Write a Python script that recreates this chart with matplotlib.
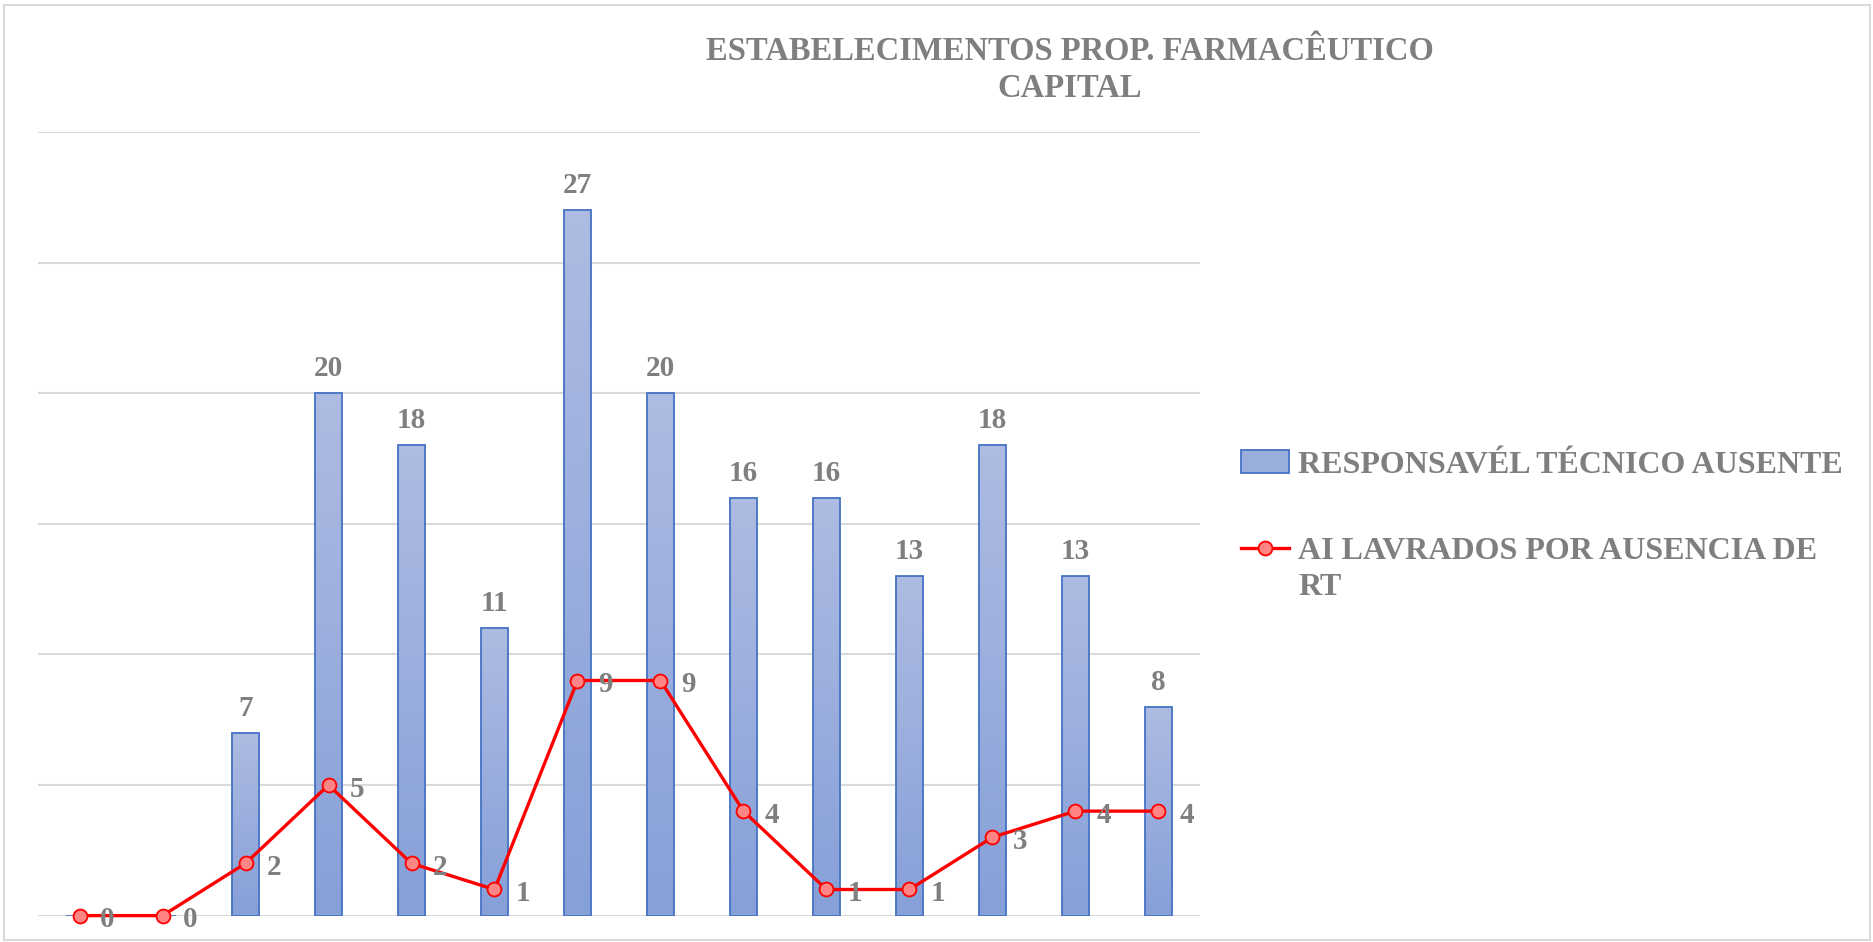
import numpy as np
import matplotlib.pyplot as plt
from matplotlib.patches import Rectangle
from matplotlib.colors import LinearSegmentedColormap
from matplotlib.legend_handler import HandlerLine2D

# data
categorias = list(range(14))
rt_ausente = [0, 0, 7, 20, 18, 11, 27, 20, 16, 16, 13, 18, 13, 8]
ai_lavrados = [0, 0, 2, 5, 2, 1, 9, 9, 4, 1, 1, 3, 4, 4]

titulo = "ESTABELECIMENTOS PROP. FARMACÊUTICO\nCAPITAL"
nome_barras = "RESPONSAVÉL TÉCNICO AUSENTE"
nome_linha = "AI LAVRADOS POR AUSENCIA DE\nRT"

cinza = "#7f7f7f"
plt.rcParams["font.family"] = ["Liberation Serif", "DejaVu Serif"]
plt.rcParams["font.weight"] = "bold"


class HandlerLinhaTopo(HandlerLine2D):
    # put the line marker next to the first line of a two-line label
    def create_artists(self, legend, orig_handle, xdescent, ydescent, width,
                       height, fontsize, trans):
        return super().create_artists(legend, orig_handle, xdescent,
                                      ydescent - 1.3 * fontsize, width, height,
                                      fontsize, trans)


fig = plt.figure(figsize=(18.74, 9.42), dpi=100)
fig.patches.append(Rectangle((0.002, 0.002), 0.996, 0.993, transform=fig.transFigure,
                             fill=False, edgecolor="#d9d9d9", linewidth=1.5))
ax = fig.add_axes([0.0203, 0.028, 0.62, 0.832])

x = np.array(categorias)
bars = ax.bar(x, rt_ausente, width=0.32, color="#9aaedc", edgecolor="#4472c4",
              linewidth=1.3, zorder=2, label=nome_barras)

# gradient fill inside each bar
grad = np.linspace(0, 1, 100).reshape(-1, 1)
cmap = LinearSegmentedColormap.from_list("g", ["#86a0d8", "#aebbe2"])
for b in bars:
    h = b.get_height()
    if h <= 0:
        continue
    im = ax.imshow(grad, extent=(b.get_x(), b.get_x() + b.get_width(), 0, h),
                   origin="lower", cmap=cmap, aspect="auto", zorder=2.1)
    im.set_clip_path(b)
    b.set_facecolor("none")
    b.set_zorder(2.2)

for b, v in zip(bars, rt_ausente):
    if v > 0:
        ax.annotate(str(v), (b.get_x() + b.get_width() / 2, v), xytext=(0, 8),
                    textcoords="offset points", ha="center", va="bottom",
                    fontsize=21, color=cinza, fontweight="bold")

linha, = ax.plot(x, ai_lavrados, color="#ff0000", linewidth=2.4, marker="o",
                 markersize=10, markerfacecolor="#ff8585", markeredgecolor="#ff0000",
                 markeredgewidth=1.3, zorder=4, clip_on=False, label=nome_linha)
for xi, v in zip(x, ai_lavrados):
    ax.annotate(str(v), (xi, v), xytext=(15, -3), textcoords="offset points",
                ha="left", va="center", fontsize=21, color=cinza, fontweight="bold",
                zorder=5)

ax.set_xlim(-0.5, 13.5)
ax.set_ylim(0, 30)
ax.set_yticks(range(0, 31, 5))
ax.grid(axis="y", color="#d9d9d9", linewidth=1.5, zorder=0)
ax.set_axisbelow(True)
ax.tick_params(left=False, bottom=False, labelleft=False, labelbottom=False)
for s in ax.spines.values():
    s.set_visible(False)

fig.text(0.571, 0.962, titulo, ha="center", va="top", fontsize=23.5,
         color=cinza, fontweight="bold", linespacing=1.27)

leg = fig.legend([bars, linha], [nome_barras, nome_linha], loc="upper left",
                 bbox_to_anchor=(0.662, 0.522), frameon=False, fontsize=23,
                 labelcolor=cinza, handlelength=1.5, handletextpad=0.3,
                 labelspacing=1.8, borderaxespad=0, borderpad=0,
                 handler_map={linha: HandlerLinhaTopo()})
for t in leg.get_texts():
    t.set_fontweight("bold")
    t.set_linespacing(1.3)

fig.savefig("out.png", dpi=100)
